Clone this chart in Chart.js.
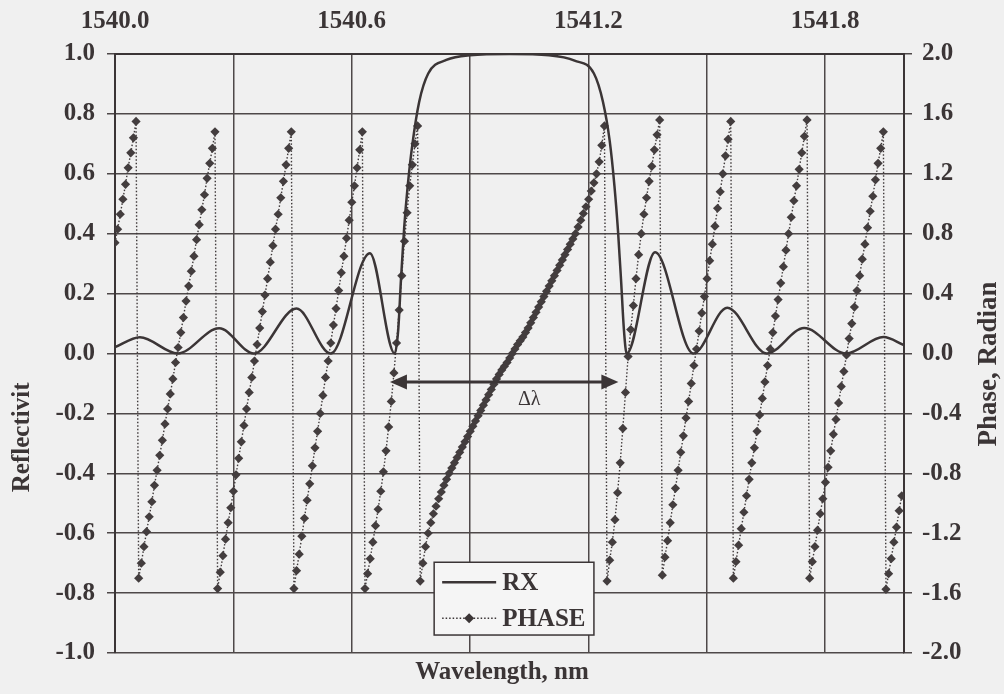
<!DOCTYPE html>
<html>
<head>
<meta charset="utf-8">
<title>Reflectivity and phase</title>
<script src="https://cdn.jsdelivr.net/npm/chart.js@4.4.1/dist/chart.umd.min.js"></script>
<style>
  html, body { margin: 0; padding: 0; background: #f0f0f0; }
  canvas { display: block; }
</style>
</head>
<body>
<canvas id="myChart" width="1004" height="694"></canvas>
<script>
// ===============================
// DATA
// ===============================
const rxWavelength = [
  1540.000, 1540.063, 1540.159, 1540.264, 1540.352, 1540.460, 1540.547, 1540.646,
  1540.709, 1540.718, 1540.725, 1540.733, 1540.742, 1540.754, 1540.771, 1540.794,
  1540.840, 1540.900, 1541.000, 1541.100, 1541.165, 1541.214, 1541.237, 1541.254,
  1541.266, 1541.275, 1541.283, 1541.290, 1541.297, 1541.369, 1541.466, 1541.552,
  1541.652, 1541.747, 1541.853, 1541.948, 1542.000
];
const rxValues = [
  0.021, 0.054, 0.000, 0.084, 0.000, 0.150, 0.000, 0.335,
  0.000, 0.080, 0.250, 0.420, 0.560, 0.700, 0.840, 0.935,
  0.980, 0.996, 1.000, 0.996, 0.978, 0.935, 0.840, 0.710,
  0.560, 0.410, 0.240, 0.080, 0.000, 0.338, 0.000, 0.153,
  0.000, 0.085, 0.000, 0.055, 0.028
];

// phase samples, one diamond every phaseStep nm starting at phaseStart
const phaseStart = 1540.0;
const phaseStep = 0.00667;
const phaseValues = [
  0.74, 0.83, 0.93, 1.03, 1.13, 1.24, 1.34, 1.44, 1.55,
  -1.50, -1.40, -1.29, -1.19, -1.09, -0.99, -0.88, -0.78, -0.68, -0.58,
  -0.47, -0.37, -0.27, -0.17, -0.06, 0.04, 0.14, 0.24, 0.35, 0.45,
  0.55, 0.65, 0.76, 0.86, 0.96, 1.06, 1.17, 1.27, 1.37, 1.48,
  -1.57, -1.46, -1.35, -1.24, -1.13, -1.03, -0.92, -0.81, -0.70, -0.59,
  -0.48, -0.37, -0.26, -0.16, -0.05, 0.06, 0.17, 0.28, 0.39, 0.50,
  0.61, 0.72, 0.83, 0.93, 1.04, 1.15, 1.26, 1.37, 1.48,
  -1.57, -1.45, -1.34, -1.22, -1.10, -0.98, -0.87, -0.75, -0.63, -0.52,
  -0.40, -0.28, -0.16, -0.05, 0.07, 0.19, 0.30, 0.42, 0.54, 0.65,
  0.77, 0.89, 1.01, 1.12, 1.24, 1.36, 1.48,
  -1.57, -1.47, -1.37, -1.26, -1.15, -1.04, -0.92, -0.79, -0.65, -0.49,
  -0.32, -0.13, 0.07, 0.29, 0.52, 0.75, 0.94, 1.12, 1.26, 1.40, 1.52,
  -1.52, -1.40, -1.29, -1.20, -1.13, -1.07, -1.02, -0.97, -0.925, -0.88,
  -0.84, -0.80, -0.765, -0.73, -0.695, -0.66, -0.625, -0.59, -0.555, -0.52,
  -0.485, -0.45, -0.415, -0.38, -0.345, -0.31, -0.275, -0.24, -0.205, -0.17,
  -0.14, -0.11, -0.085, -0.06, -0.03, 0.00, 0.03, 0.06, 0.085, 0.11, 0.14,
  0.17, 0.205, 0.24, 0.275, 0.31, 0.345, 0.38, 0.415, 0.45, 0.485,
  0.52, 0.555, 0.59, 0.625, 0.66, 0.695, 0.73, 0.765, 0.80, 0.845,
  0.89, 0.935, 0.98, 1.03, 1.085, 1.14, 1.20, 1.28, 1.39, 1.52,
  -1.52, -1.38, -1.26, -1.11, -0.93, -0.73, -0.50, -0.26, -0.02, 0.16,
  0.32, 0.50, 0.66, 0.80, 0.93, 1.04, 1.15, 1.25, 1.36, 1.46, 1.56,
  -1.48, -1.36, -1.25, -1.13, -1.01, -0.90, -0.78, -0.66, -0.55, -0.43,
  -0.32, -0.20, -0.08, 0.03, 0.15, 0.27, 0.38, 0.50, 0.62, 0.73,
  0.85, 0.97, 1.08, 1.20, 1.32, 1.43, 1.55,
  -1.50, -1.39, -1.28, -1.17, -1.06, -0.95, -0.84, -0.73, -0.63, -0.52,
  -0.41, -0.30, -0.19, -0.08, 0.03, 0.14, 0.25, 0.36, 0.47, 0.58,
  0.69, 0.80, 0.91, 1.02, 1.12, 1.23, 1.34, 1.45, 1.56,
  -1.50, -1.39, -1.29, -1.18, -1.07, -0.97, -0.86, -0.76, -0.65, -0.54,
  -0.44, -0.33, -0.22, -0.12, -0.01, 0.10, 0.20, 0.31, 0.42, 0.52,
  0.63, 0.73, 0.84, 0.95, 1.05, 1.16, 1.27, 1.37, 1.48,
  -1.575, -1.47, -1.37, -1.26, -1.16, -1.05, -0.95
];

// axis ticks
const xGridTicks = [1540.0, 1540.3, 1540.6, 1540.9, 1541.2, 1541.5, 1541.8];
const xLabelTicks = [1540.0, 1540.6, 1541.2, 1541.8];

// bandwidth arrow (wavelength ends, reflectivity level)
const deltaLambda = [1540.697, 1541.276];
const arrowLevel = -0.095;

// ===============================
// STYLE
// ===============================
const ink = '#3b3536';
const paper = '#f0f0f0';
const serif = '"Liberation Serif", "Times New Roman", serif';

const fmt = v => (Math.abs(v) < 1e-9 ? 0 : v).toFixed(1);

// background, arrow, legend box and side titles
const overlay = {
  id: 'overlay',
  beforeDraw(chart) {
    const c = chart.ctx;
    c.save();
    c.fillStyle = paper;
    c.fillRect(0, 0, chart.width, chart.height);
    c.restore();
  },
  afterDraw(chart) {
    const c = chart.ctx;
    const xs = chart.scales.x, ys = chart.scales.y;
    c.save();
    c.strokeStyle = ink;
    c.fillStyle = ink;

    // double arrow
    const ay = ys.getPixelForValue(arrowLevel);
    const x1 = xs.getPixelForValue(deltaLambda[0]);
    const x2 = xs.getPixelForValue(deltaLambda[1]);
    c.lineWidth = 3;
    c.beginPath();
    c.moveTo(x1 + 10, ay);
    c.lineTo(x2 - 10, ay);
    c.stroke();
    c.beginPath();
    c.moveTo(x1, ay); c.lineTo(x1 + 17, ay - 7.5); c.lineTo(x1 + 17, ay + 7.5);
    c.closePath(); c.fill();
    c.beginPath();
    c.moveTo(x2, ay); c.lineTo(x2 - 17, ay - 7.5); c.lineTo(x2 - 17, ay + 7.5);
    c.closePath(); c.fill();

    c.font = '20px ' + serif;
    c.textAlign = 'center';
    c.textBaseline = 'middle';
    c.fillText('\u0394\u03bb', xs.getPixelForValue(1541.05), ys.getPixelForValue(-0.153));

    // legend box
    const lx = xs.getPixelForValue(1540.809);
    const rx = xs.getPixelForValue(1541.214);
    const ty = ys.getPixelForValue(-0.697);
    const by = ys.getPixelForValue(-0.94);
    c.fillStyle = '#f5f5f5';
    c.fillRect(lx, ty, rx - lx, by - ty);
    c.lineWidth = 1.5;
    c.strokeRect(lx, ty, rx - lx, by - ty);
    c.fillStyle = ink;

    const r1 = ty + 20, r2 = ty + 56;
    c.lineWidth = 2.5;
    c.beginPath(); c.moveTo(lx + 8, r1); c.lineTo(lx + 62, r1); c.stroke();
    c.lineWidth = 1.4;
    c.setLineDash([1.5, 2]);
    c.beginPath(); c.moveTo(lx + 8, r2); c.lineTo(lx + 62, r2); c.stroke();
    c.setLineDash([]);
    const dx = lx + 35;
    c.beginPath();
    c.moveTo(dx - 5, r2); c.lineTo(dx, r2 - 5); c.lineTo(dx + 5, r2); c.lineTo(dx, r2 + 5);
    c.closePath(); c.fill();

    c.font = 'bold 25px ' + serif;
    c.textAlign = 'left';
    c.fillText('RX', lx + 68, r1 + 1);
    c.fillText('PHASE', lx + 68, r2 + 1);

    // side titles
    c.textAlign = 'center';
    c.save();
    c.translate(22.5, ys.getPixelForValue(-0.28));
    c.rotate(-Math.PI / 2);
    c.fillText('Reflectivit', 0, 0);
    c.restore();
    c.save();
    c.translate(chart.width - 15, ys.getPixelForValue(-0.035));
    c.rotate(-Math.PI / 2);
    c.font = 'bold 27px ' + serif;
    c.fillText('Phase, Radian', 0, 0);
    c.restore();

    c.restore();
  }
};

// ===============================
// CHART
// ===============================
const ctx = document.getElementById('myChart').getContext('2d');

new Chart(ctx, {
  type: 'line',
  data: {
    datasets: [
      {
        label: 'RX',
        data: rxWavelength.map((w, i) => ({ x: w, y: rxValues[i] })),
        yAxisID: 'y',
        borderColor: ink,
        borderWidth: 2.5,
        pointRadius: 0,
        cubicInterpolationMode: 'monotone',
        fill: false
      },
      {
        label: 'PHASE',
        data: phaseValues.map((v, i) => ({ x: phaseStart + i * phaseStep, y: v })),
        yAxisID: 'y2',
        borderColor: '#3f393a',
        borderWidth: 1.4,
        borderDash: [1.5, 2],
        pointStyle: 'rectRot',
        pointRadius: 4.6,
        pointBorderWidth: 0,
        pointBackgroundColor: '#433d3e',
        tension: 0,
        fill: false
      }
    ]
  },
  options: {
    responsive: false,
    animation: false,
    devicePixelRatio: 1,
    events: [],
    layout: { padding: 0 },
    plugins: {
      legend: { display: false },
      tooltip: { enabled: false },
      title: {
        display: true,
        position: 'bottom',
        text: 'Wavelength, nm',
        color: ink,
        font: { family: serif, size: 25, weight: 'bold' },
        padding: { top: 5, bottom: 6 }
      }
    },
    scales: {
      x: {
        type: 'linear',
        position: 'top',
        min: 1540,
        max: 1542,
        afterBuildTicks: s => { s.ticks = xGridTicks.map(v => ({ value: v })); },
        afterFit: s => { s.height = 54; },
        grid: { color: '#4e4849', lineWidth: 1.5, drawTicks: false },
        border: { display: true, color: ink, width: 2 },
        ticks: {
          autoSkip: false,
          maxRotation: 0,
          padding: 17,
          color: ink,
          font: { family: serif, size: 25, weight: 'bold' },
          callback: v => xLabelTicks.some(t => Math.abs(t - v) < 1e-6) ? v.toFixed(1) : ''
        }
      },
      y: {
        position: 'left',
        min: -1,
        max: 1,
        afterFit: s => { s.width = 115; },
        grid: { color: '#4e4849', lineWidth: 1.5, tickLength: 8 },
        border: { display: true, color: ink, width: 2 },
        ticks: {
          stepSize: 0.2,
          padding: 12,
          color: ink,
          font: { family: serif, size: 25, weight: 'bold' },
          callback: v => fmt(v)
        }
      },
      y2: {
        position: 'right',
        min: -2,
        max: 2,
        afterFit: s => { s.width = 100; },
        grid: { drawOnChartArea: false, color: '#4e4849', lineWidth: 1.5, tickLength: 8 },
        border: { display: true, color: ink, width: 2 },
        ticks: {
          stepSize: 0.4,
          padding: 10,
          color: ink,
          font: { family: serif, size: 25, weight: 'bold' },
          callback: v => fmt(v)
        }
      }
    }
  },
  plugins: [overlay]
});
</script>
</body>
</html>
